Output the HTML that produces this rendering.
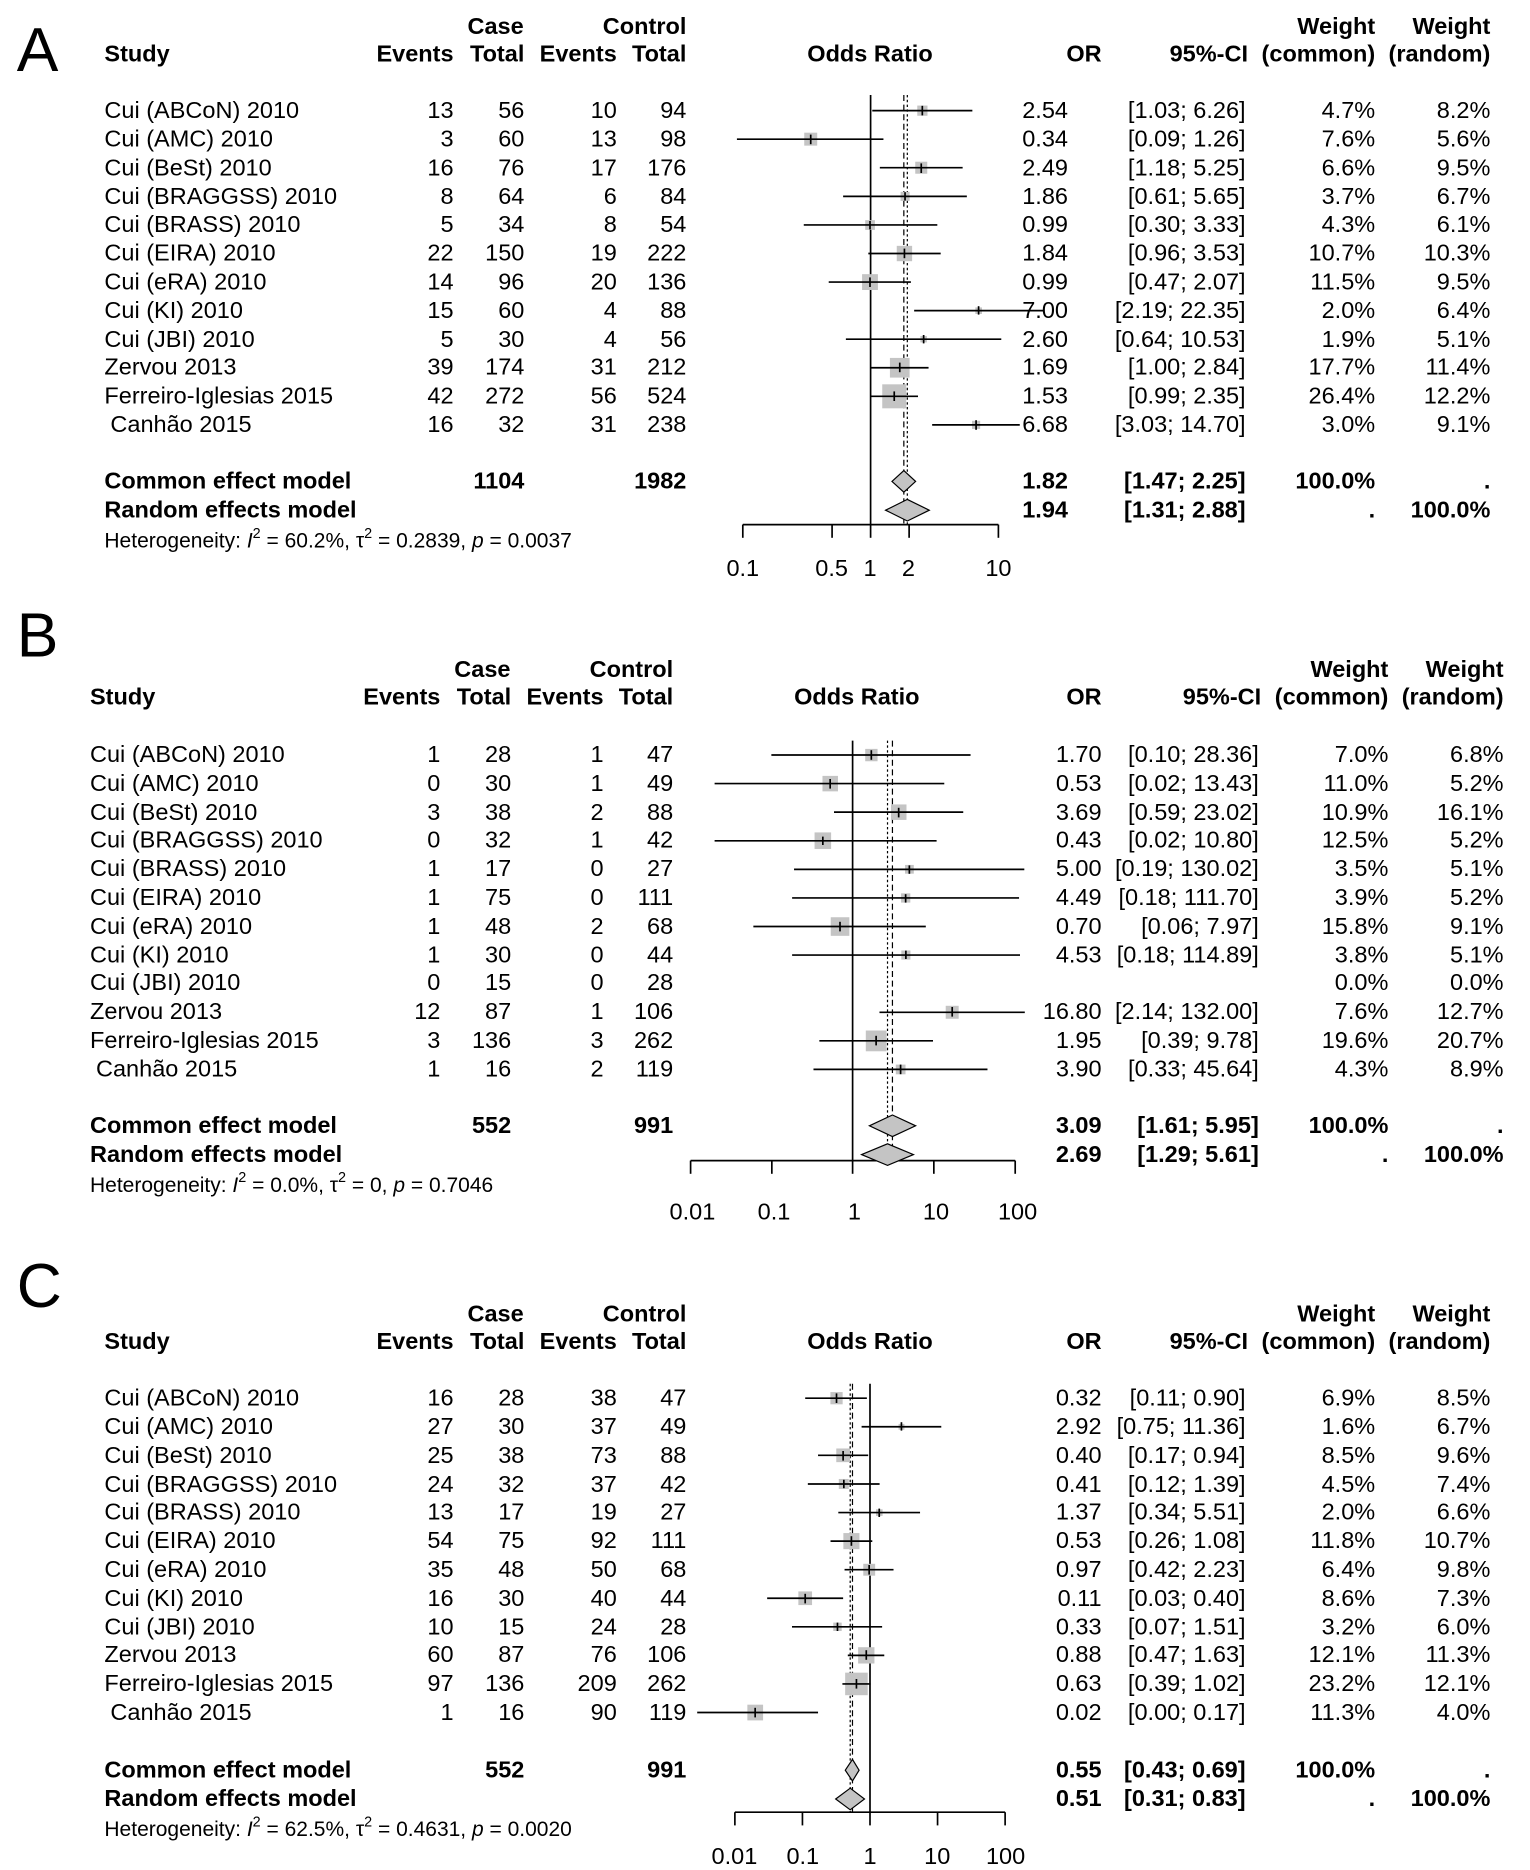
<!DOCTYPE html>
<html><head><meta charset="utf-8"><style>
html,body{margin:0;padding:0;background:#fff}
svg{display:block}
text{font-family:"Liberation Sans",Arial,sans-serif;font-size:19.6px;fill:#000}
.b{font-weight:bold}
.r{text-anchor:end}
.m{text-anchor:middle}
.h{font-size:17.5px}
.L{font-size:52px}
.sq{fill:#c4c4c4}
.ln{stroke:#000;stroke-width:1.4;fill:none}
.dm{fill:#c4c4c4;stroke:#000;stroke-width:1}
</style></head><body>
<svg width="1530" height="1870" viewBox="0 0 1275 1558" xmlns="http://www.w3.org/2000/svg">

<!-- ================= PANEL A ================= -->
<text class="L" x="14" y="59">A</text>
<g class="b">
<text class="m" x="413" y="28">Case</text>
<text class="r" x="572" y="28">Control</text>
<text class="r" x="1146" y="28">Weight</text>
<text class="r" x="1242" y="28">Weight</text>
<text x="87" y="51">Study</text>
<text class="r" x="378" y="51">Events</text>
<text class="r" x="437" y="51">Total</text>
<text class="r" x="514" y="51">Events</text>
<text class="r" x="572" y="51">Total</text>
<text class="m" x="725" y="51">Odds Ratio</text>
<text class="r" x="918" y="51">OR</text>
<text class="r" x="1040" y="51">95%-CI</text>
<text class="r" x="1146" y="51">(common)</text>
<text class="r" x="1242" y="51">(random)</text>
</g>
<g>
<text x="87" y="98">Cui (ABCoN) 2010</text><text class="r" x="378" y="98">13</text><text class="r" x="437" y="98">56</text><text class="r" x="514" y="98">10</text><text class="r" x="572" y="98">94</text><text class="r" x="890" y="98">2.54</text><text class="r" x="1038" y="98">[1.03; 6.26]</text><text class="r" x="1146" y="98">4.7%</text><text class="r" x="1242" y="98">8.2%</text>
<text x="87" y="122">Cui (AMC) 2010</text><text class="r" x="378" y="122">3</text><text class="r" x="437" y="122">60</text><text class="r" x="514" y="122">13</text><text class="r" x="572" y="122">98</text><text class="r" x="890" y="122">0.34</text><text class="r" x="1038" y="122">[0.09; 1.26]</text><text class="r" x="1146" y="122">7.6%</text><text class="r" x="1242" y="122">5.6%</text>
<text x="87" y="146">Cui (BeSt) 2010</text><text class="r" x="378" y="146">16</text><text class="r" x="437" y="146">76</text><text class="r" x="514" y="146">17</text><text class="r" x="572" y="146">176</text><text class="r" x="890" y="146">2.49</text><text class="r" x="1038" y="146">[1.18; 5.25]</text><text class="r" x="1146" y="146">6.6%</text><text class="r" x="1242" y="146">9.5%</text>
<text x="87" y="170">Cui (BRAGGSS) 2010</text><text class="r" x="378" y="170">8</text><text class="r" x="437" y="170">64</text><text class="r" x="514" y="170">6</text><text class="r" x="572" y="170">84</text><text class="r" x="890" y="170">1.86</text><text class="r" x="1038" y="170">[0.61; 5.65]</text><text class="r" x="1146" y="170">3.7%</text><text class="r" x="1242" y="170">6.7%</text>
<text x="87" y="193">Cui (BRASS) 2010</text><text class="r" x="378" y="193">5</text><text class="r" x="437" y="193">34</text><text class="r" x="514" y="193">8</text><text class="r" x="572" y="193">54</text><text class="r" x="890" y="193">0.99</text><text class="r" x="1038" y="193">[0.30; 3.33]</text><text class="r" x="1146" y="193">4.3%</text><text class="r" x="1242" y="193">6.1%</text>
<text x="87" y="217">Cui (EIRA) 2010</text><text class="r" x="378" y="217">22</text><text class="r" x="437" y="217">150</text><text class="r" x="514" y="217">19</text><text class="r" x="572" y="217">222</text><text class="r" x="890" y="217">1.84</text><text class="r" x="1038" y="217">[0.96; 3.53]</text><text class="r" x="1146" y="217">10.7%</text><text class="r" x="1242" y="217">10.3%</text>
<text x="87" y="241">Cui (eRA) 2010</text><text class="r" x="378" y="241">14</text><text class="r" x="437" y="241">96</text><text class="r" x="514" y="241">20</text><text class="r" x="572" y="241">136</text><text class="r" x="890" y="241">0.99</text><text class="r" x="1038" y="241">[0.47; 2.07]</text><text class="r" x="1146" y="241">11.5%</text><text class="r" x="1242" y="241">9.5%</text>
<text x="87" y="265">Cui (KI) 2010</text><text class="r" x="378" y="265">15</text><text class="r" x="437" y="265">60</text><text class="r" x="514" y="265">4</text><text class="r" x="572" y="265">88</text><text class="r" x="890" y="265">7.00</text><text class="r" x="1038" y="265">[2.19; 22.35]</text><text class="r" x="1146" y="265">2.0%</text><text class="r" x="1242" y="265">6.4%</text>
<text x="87" y="289">Cui (JBI) 2010</text><text class="r" x="378" y="289">5</text><text class="r" x="437" y="289">30</text><text class="r" x="514" y="289">4</text><text class="r" x="572" y="289">56</text><text class="r" x="890" y="289">2.60</text><text class="r" x="1038" y="289">[0.64; 10.53]</text><text class="r" x="1146" y="289">1.9%</text><text class="r" x="1242" y="289">5.1%</text>
<text x="87" y="312">Zervou 2013</text><text class="r" x="378" y="312">39</text><text class="r" x="437" y="312">174</text><text class="r" x="514" y="312">31</text><text class="r" x="572" y="312">212</text><text class="r" x="890" y="312">1.69</text><text class="r" x="1038" y="312">[1.00; 2.84]</text><text class="r" x="1146" y="312">17.7%</text><text class="r" x="1242" y="312">11.4%</text>
<text x="87" y="336">Ferreiro-Iglesias 2015</text><text class="r" x="378" y="336">42</text><text class="r" x="437" y="336">272</text><text class="r" x="514" y="336">56</text><text class="r" x="572" y="336">524</text><text class="r" x="890" y="336">1.53</text><text class="r" x="1038" y="336">[0.99; 2.35]</text><text class="r" x="1146" y="336">26.4%</text><text class="r" x="1242" y="336">12.2%</text>
<text x="92" y="360">Canhão 2015</text><text class="r" x="378" y="360">16</text><text class="r" x="437" y="360">32</text><text class="r" x="514" y="360">31</text><text class="r" x="572" y="360">238</text><text class="r" x="890" y="360">6.68</text><text class="r" x="1038" y="360">[3.03; 14.70]</text><text class="r" x="1146" y="360">3.0%</text><text class="r" x="1242" y="360">9.1%</text>
</g>
<g class="b">
<text x="87" y="407">Common effect model</text><text class="r" x="437" y="407">1104</text><text class="r" x="572" y="407">1982</text><text class="r" x="890" y="407">1.82</text><text class="r" x="1038" y="407">[1.47; 2.25]</text><text class="r" x="1146" y="407">100.0%</text><text class="r" x="1242" y="407">.</text>
<text x="87" y="431">Random effects model</text><text class="r" x="890" y="431">1.94</text><text class="r" x="1038" y="431">[1.31; 2.88]</text><text class="r" x="1146" y="431">.</text><text class="r" x="1242" y="431">100.0%</text>
</g>
<text class="h" x="87" y="456">Heterogeneity: <tspan font-style="italic">I</tspan><tspan dy="-8" font-size="12">2</tspan><tspan dy="8"> = 60.2%, τ</tspan><tspan dy="-8" font-size="12">2</tspan><tspan dy="8"> = 0.2839, </tspan><tspan font-style="italic">p</tspan> = 0.0037</text>
<g class="ln">
<line x1="725.5" y1="79" x2="725.5" y2="437"/>
<line x1="753.2" y1="79" x2="753.2" y2="437" stroke-dasharray="5,3" stroke-width="1"/>
<line x1="756.1" y1="79" x2="756.1" y2="437" stroke-dasharray="2,2" stroke-width="1"/>
<line x1="619" y1="437" x2="832" y2="437"/>
<line x1="619" y1="437" x2="619" y2="448"/><line x1="693.4" y1="437" x2="693.4" y2="448"/><line x1="725.5" y1="437" x2="725.5" y2="448"/><line x1="757.6" y1="437" x2="757.6" y2="448"/><line x1="832" y1="437" x2="832" y2="448"/>
</g>
<g class="m"><text x="619" y="480">0.1</text><text x="693" y="480">0.5</text><text x="725" y="480">1</text><text x="757" y="480">2</text><text x="832" y="480">10</text></g>
<g>
<rect class="sq" x="764.4" y="87.8" width="8.5" height="8.5"/><line class="ln" x1="726.9" y1="92" x2="810.3" y2="92"/><line class="ln" x1="768.6" y1="88" x2="768.6" y2="96"/>
<rect class="sq" x="670.2" y="110.4" width="10.8" height="10.8"/><line class="ln" x1="614.1" y1="115.8" x2="736.2" y2="115.8"/><line class="ln" x1="675.6" y1="112" x2="675.6" y2="120"/>
<rect class="sq" x="762.7" y="134.6" width="10" height="10"/><line class="ln" x1="733.2" y1="139.6" x2="802.2" y2="139.6"/><line class="ln" x1="767.7" y1="136" x2="767.7" y2="144"/>
<rect class="sq" x="750.5" y="159.7" width="7.5" height="7.5"/><line class="ln" x1="702.6" y1="163.5" x2="805.7" y2="163.5"/><line class="ln" x1="754.2" y1="160" x2="754.2" y2="167"/>
<rect class="sq" x="721" y="183.3" width="8.1" height="8.1"/><line class="ln" x1="669.8" y1="187.3" x2="781.1" y2="187.3"/><line class="ln" x1="725" y1="184" x2="725" y2="191"/>
<rect class="sq" x="747.3" y="204.7" width="12.8" height="12.8"/><line class="ln" x1="723.6" y1="211.1" x2="783.9" y2="211.1"/><line class="ln" x1="753.7" y1="207" x2="753.7" y2="215"/>
<rect class="sq" x="718.4" y="228.3" width="13.2" height="13.2"/><line class="ln" x1="690.6" y1="234.9" x2="759.1" y2="234.9"/><line class="ln" x1="725" y1="231" x2="725" y2="239"/>
<rect class="sq" x="812.8" y="256" width="5.5" height="5.5"/><line class="ln" x1="761.8" y1="258.7" x2="869.2" y2="258.7"/><line class="ln" x1="815.5" y1="255" x2="815.5" y2="262"/>
<rect class="sq" x="767" y="279.8" width="5.4" height="5.4"/><line class="ln" x1="704.9" y1="282.5" x2="834.4" y2="282.5"/><line class="ln" x1="769.7" y1="279" x2="769.7" y2="286"/>
<rect class="sq" x="741.6" y="298.1" width="16.4" height="16.4"/><line class="ln" x1="725.5" y1="306.3" x2="773.8" y2="306.3"/><line class="ln" x1="749.8" y1="302" x2="749.8" y2="310"/>
<rect class="sq" x="735.2" y="320.1" width="20" height="20"/><line class="ln" x1="725" y1="330.1" x2="765" y2="330.1"/><line class="ln" x1="745.2" y1="326" x2="745.2" y2="334"/>
<rect class="sq" x="810" y="350.5" width="6.8" height="6.8"/><line class="ln" x1="776.8" y1="353.9" x2="849.8" y2="353.9"/><line class="ln" x1="813.4" y1="350" x2="813.4" y2="358"/>
<polygon class="dm" points="743.3,401 753.2,392 763,401 753.2,410"/>
<polygon class="dm" points="738,425 756.1,416 774.4,425 756.1,434"/>
</g>

<!-- ================= PANEL B ================= -->
<text class="L" x="14" y="547">B</text>
<g class="b">
<text class="m" x="402" y="564">Case</text>
<text class="r" x="561" y="564">Control</text>
<text class="r" x="1157" y="564">Weight</text>
<text class="r" x="1253" y="564">Weight</text>
<text x="75" y="587">Study</text>
<text class="r" x="367" y="587">Events</text>
<text class="r" x="426" y="587">Total</text>
<text class="r" x="503" y="587">Events</text>
<text class="r" x="561" y="587">Total</text>
<text class="m" x="714" y="587">Odds Ratio</text>
<text class="r" x="918" y="587">OR</text>
<text class="r" x="1051" y="587">95%-CI</text>
<text class="r" x="1157" y="587">(common)</text>
<text class="r" x="1253" y="587">(random)</text>
</g>
<g>
<text x="75" y="635">Cui (ABCoN) 2010</text><text class="r" x="367" y="635">1</text><text class="r" x="426" y="635">28</text><text class="r" x="503" y="635">1</text><text class="r" x="561" y="635">47</text><text class="r" x="918" y="635">1.70</text><text class="r" x="1049" y="635">[0.10; 28.36]</text><text class="r" x="1157" y="635">7.0%</text><text class="r" x="1253" y="635">6.8%</text>
<text x="75" y="659">Cui (AMC) 2010</text><text class="r" x="367" y="659">0</text><text class="r" x="426" y="659">30</text><text class="r" x="503" y="659">1</text><text class="r" x="561" y="659">49</text><text class="r" x="918" y="659">0.53</text><text class="r" x="1049" y="659">[0.02; 13.43]</text><text class="r" x="1157" y="659">11.0%</text><text class="r" x="1253" y="659">5.2%</text>
<text x="75" y="683">Cui (BeSt) 2010</text><text class="r" x="367" y="683">3</text><text class="r" x="426" y="683">38</text><text class="r" x="503" y="683">2</text><text class="r" x="561" y="683">88</text><text class="r" x="918" y="683">3.69</text><text class="r" x="1049" y="683">[0.59; 23.02]</text><text class="r" x="1157" y="683">10.9%</text><text class="r" x="1253" y="683">16.1%</text>
<text x="75" y="706">Cui (BRAGGSS) 2010</text><text class="r" x="367" y="706">0</text><text class="r" x="426" y="706">32</text><text class="r" x="503" y="706">1</text><text class="r" x="561" y="706">42</text><text class="r" x="918" y="706">0.43</text><text class="r" x="1049" y="706">[0.02; 10.80]</text><text class="r" x="1157" y="706">12.5%</text><text class="r" x="1253" y="706">5.2%</text>
<text x="75" y="730">Cui (BRASS) 2010</text><text class="r" x="367" y="730">1</text><text class="r" x="426" y="730">17</text><text class="r" x="503" y="730">0</text><text class="r" x="561" y="730">27</text><text class="r" x="918" y="730">5.00</text><text class="r" x="1049" y="730">[0.19; 130.02]</text><text class="r" x="1157" y="730">3.5%</text><text class="r" x="1253" y="730">5.1%</text>
<text x="75" y="754">Cui (EIRA) 2010</text><text class="r" x="367" y="754">1</text><text class="r" x="426" y="754">75</text><text class="r" x="503" y="754">0</text><text class="r" x="561" y="754">111</text><text class="r" x="918" y="754">4.49</text><text class="r" x="1049" y="754">[0.18; 111.70]</text><text class="r" x="1157" y="754">3.9%</text><text class="r" x="1253" y="754">5.2%</text>
<text x="75" y="778">Cui (eRA) 2010</text><text class="r" x="367" y="778">1</text><text class="r" x="426" y="778">48</text><text class="r" x="503" y="778">2</text><text class="r" x="561" y="778">68</text><text class="r" x="918" y="778">0.70</text><text class="r" x="1049" y="778">[0.06; 7.97]</text><text class="r" x="1157" y="778">15.8%</text><text class="r" x="1253" y="778">9.1%</text>
<text x="75" y="802">Cui (KI) 2010</text><text class="r" x="367" y="802">1</text><text class="r" x="426" y="802">30</text><text class="r" x="503" y="802">0</text><text class="r" x="561" y="802">44</text><text class="r" x="918" y="802">4.53</text><text class="r" x="1049" y="802">[0.18; 114.89]</text><text class="r" x="1157" y="802">3.8%</text><text class="r" x="1253" y="802">5.1%</text>
<text x="75" y="825">Cui (JBI) 2010</text><text class="r" x="367" y="825">0</text><text class="r" x="426" y="825">15</text><text class="r" x="503" y="825">0</text><text class="r" x="561" y="825">28</text><text class="r" x="1157" y="825">0.0%</text><text class="r" x="1253" y="825">0.0%</text>
<text x="75" y="849">Zervou 2013</text><text class="r" x="367" y="849">12</text><text class="r" x="426" y="849">87</text><text class="r" x="503" y="849">1</text><text class="r" x="561" y="849">106</text><text class="r" x="918" y="849">16.80</text><text class="r" x="1049" y="849">[2.14; 132.00]</text><text class="r" x="1157" y="849">7.6%</text><text class="r" x="1253" y="849">12.7%</text>
<text x="75" y="873">Ferreiro-Iglesias 2015</text><text class="r" x="367" y="873">3</text><text class="r" x="426" y="873">136</text><text class="r" x="503" y="873">3</text><text class="r" x="561" y="873">262</text><text class="r" x="918" y="873">1.95</text><text class="r" x="1049" y="873">[0.39; 9.78]</text><text class="r" x="1157" y="873">19.6%</text><text class="r" x="1253" y="873">20.7%</text>
<text x="80" y="897">Canhão 2015</text><text class="r" x="367" y="897">1</text><text class="r" x="426" y="897">16</text><text class="r" x="503" y="897">2</text><text class="r" x="561" y="897">119</text><text class="r" x="918" y="897">3.90</text><text class="r" x="1049" y="897">[0.33; 45.64]</text><text class="r" x="1157" y="897">4.3%</text><text class="r" x="1253" y="897">8.9%</text>
</g>
<g class="b">
<text x="75" y="944">Common effect model</text><text class="r" x="426" y="944">552</text><text class="r" x="561" y="944">991</text><text class="r" x="918" y="944">3.09</text><text class="r" x="1049" y="944">[1.61; 5.95]</text><text class="r" x="1157" y="944">100.0%</text><text class="r" x="1253" y="944">.</text>
<text x="75" y="968">Random effects model</text><text class="r" x="918" y="968">2.69</text><text class="r" x="1049" y="968">[1.29; 5.61]</text><text class="r" x="1157" y="968">.</text><text class="r" x="1253" y="968">100.0%</text>
</g>
<text class="h" x="75" y="993">Heterogeneity: <tspan font-style="italic">I</tspan><tspan dy="-8" font-size="12">2</tspan><tspan dy="8"> = 0.0%, τ</tspan><tspan dy="-8" font-size="12">2</tspan><tspan dy="8"> = 0, </tspan><tspan font-style="italic">p</tspan> = 0.7046</text>
<g class="ln">
<line x1="710.5" y1="617" x2="710.5" y2="967"/>
<line x1="743.7" y1="617" x2="743.7" y2="967" stroke-dasharray="5,3" stroke-width="1"/>
<line x1="739.6" y1="617" x2="739.6" y2="967" stroke-dasharray="2,2" stroke-width="1"/>
<line x1="575.5" y1="967" x2="846" y2="967"/>
<line x1="575.5" y1="967" x2="575.5" y2="978"/><line x1="643.2" y1="967" x2="643.2" y2="978"/><line x1="710.5" y1="967" x2="710.5" y2="978"/><line x1="778.2" y1="967" x2="778.2" y2="978"/><line x1="846" y1="967" x2="846" y2="978"/>
</g>
<g class="m"><text x="577" y="1016">0.01</text><text x="645" y="1016">0.1</text><text x="712" y="1016">1</text><text x="780" y="1016">10</text><text x="848" y="1016">100</text></g>
<g>
<rect class="sq" x="721" y="623.9" width="10.3" height="10.3"/><line class="ln" x1="642.8" y1="629" x2="808.8" y2="629"/><line class="ln" x1="726.1" y1="625" x2="726.1" y2="633"/>
<rect class="sq" x="685.4" y="646.4" width="12.9" height="12.9"/><line class="ln" x1="595.5" y1="652.8" x2="786.9" y2="652.8"/><line class="ln" x1="691.8" y1="649" x2="691.8" y2="657"/>
<rect class="sq" x="742.5" y="670.2" width="12.9" height="12.9"/><line class="ln" x1="695" y1="676.6" x2="802.7" y2="676.6"/><line class="ln" x1="748.9" y1="673" x2="748.9" y2="681"/>
<rect class="sq" x="678.8" y="693.5" width="13.8" height="13.8"/><line class="ln" x1="595.5" y1="700.5" x2="780.5" y2="700.5"/><line class="ln" x1="685.7" y1="697" x2="685.7" y2="704"/>
<rect class="sq" x="754.2" y="720.6" width="7.3" height="7.3"/><line class="ln" x1="661.7" y1="724.3" x2="853.6" y2="724.3"/><line class="ln" x1="757.8" y1="721" x2="757.8" y2="728"/>
<rect class="sq" x="750.9" y="744.3" width="7.7" height="7.7"/><line class="ln" x1="660.1" y1="748.1" x2="849.2" y2="748.1"/><line class="ln" x1="754.7" y1="745" x2="754.7" y2="752"/>
<rect class="sq" x="692.3" y="764.2" width="15.5" height="15.5"/><line class="ln" x1="627.8" y1="771.9" x2="771.5" y2="771.9"/><line class="ln" x1="700" y1="768" x2="700" y2="776"/>
<rect class="sq" x="751.1" y="791.9" width="7.6" height="7.6"/><line class="ln" x1="660.1" y1="795.7" x2="850" y2="795.7"/><line class="ln" x1="754.9" y1="792" x2="754.9" y2="799"/>
<rect class="sq" x="788.1" y="838" width="10.8" height="10.8"/><line class="ln" x1="732.9" y1="843.4" x2="854" y2="843.4"/><line class="ln" x1="793.5" y1="839" x2="793.5" y2="847"/>
<rect class="sq" x="721.5" y="858.6" width="17.3" height="17.3"/><line class="ln" x1="682.8" y1="867.2" x2="777.5" y2="867.2"/><line class="ln" x1="730.1" y1="863" x2="730.1" y2="871"/>
<rect class="sq" x="746.5" y="887" width="8.1" height="8.1"/><line class="ln" x1="677.9" y1="891" x2="822.9" y2="891"/><line class="ln" x1="750.5" y1="887" x2="750.5" y2="895"/>
<polygon class="dm" points="724.5,938 743.7,929 763,938 743.7,947"/>
<polygon class="dm" points="718,962 739.6,953 761.2,962 739.6,971"/>
</g>

<!-- ================= PANEL C ================= -->
<text class="L" x="14" y="1089">C</text>
<g class="b">
<text class="m" x="413" y="1101">Case</text>
<text class="r" x="572" y="1101">Control</text>
<text class="r" x="1146" y="1101">Weight</text>
<text class="r" x="1242" y="1101">Weight</text>
<text x="87" y="1124">Study</text>
<text class="r" x="378" y="1124">Events</text>
<text class="r" x="437" y="1124">Total</text>
<text class="r" x="514" y="1124">Events</text>
<text class="r" x="572" y="1124">Total</text>
<text class="m" x="725" y="1124">Odds Ratio</text>
<text class="r" x="918" y="1124">OR</text>
<text class="r" x="1040" y="1124">95%-CI</text>
<text class="r" x="1146" y="1124">(common)</text>
<text class="r" x="1242" y="1124">(random)</text>
</g>
<g>
<text x="87" y="1171">Cui (ABCoN) 2010</text><text class="r" x="378" y="1171">16</text><text class="r" x="437" y="1171">28</text><text class="r" x="514" y="1171">38</text><text class="r" x="572" y="1171">47</text><text class="r" x="918" y="1171">0.32</text><text class="r" x="1038" y="1171">[0.11; 0.90]</text><text class="r" x="1146" y="1171">6.9%</text><text class="r" x="1242" y="1171">8.5%</text>
<text x="87" y="1195">Cui (AMC) 2010</text><text class="r" x="378" y="1195">27</text><text class="r" x="437" y="1195">30</text><text class="r" x="514" y="1195">37</text><text class="r" x="572" y="1195">49</text><text class="r" x="918" y="1195">2.92</text><text class="r" x="1038" y="1195">[0.75; 11.36]</text><text class="r" x="1146" y="1195">1.6%</text><text class="r" x="1242" y="1195">6.7%</text>
<text x="87" y="1219">Cui (BeSt) 2010</text><text class="r" x="378" y="1219">25</text><text class="r" x="437" y="1219">38</text><text class="r" x="514" y="1219">73</text><text class="r" x="572" y="1219">88</text><text class="r" x="918" y="1219">0.40</text><text class="r" x="1038" y="1219">[0.17; 0.94]</text><text class="r" x="1146" y="1219">8.5%</text><text class="r" x="1242" y="1219">9.6%</text>
<text x="87" y="1243">Cui (BRAGGSS) 2010</text><text class="r" x="378" y="1243">24</text><text class="r" x="437" y="1243">32</text><text class="r" x="514" y="1243">37</text><text class="r" x="572" y="1243">42</text><text class="r" x="918" y="1243">0.41</text><text class="r" x="1038" y="1243">[0.12; 1.39]</text><text class="r" x="1146" y="1243">4.5%</text><text class="r" x="1242" y="1243">7.4%</text>
<text x="87" y="1266">Cui (BRASS) 2010</text><text class="r" x="378" y="1266">13</text><text class="r" x="437" y="1266">17</text><text class="r" x="514" y="1266">19</text><text class="r" x="572" y="1266">27</text><text class="r" x="918" y="1266">1.37</text><text class="r" x="1038" y="1266">[0.34; 5.51]</text><text class="r" x="1146" y="1266">2.0%</text><text class="r" x="1242" y="1266">6.6%</text>
<text x="87" y="1290">Cui (EIRA) 2010</text><text class="r" x="378" y="1290">54</text><text class="r" x="437" y="1290">75</text><text class="r" x="514" y="1290">92</text><text class="r" x="572" y="1290">111</text><text class="r" x="918" y="1290">0.53</text><text class="r" x="1038" y="1290">[0.26; 1.08]</text><text class="r" x="1146" y="1290">11.8%</text><text class="r" x="1242" y="1290">10.7%</text>
<text x="87" y="1314">Cui (eRA) 2010</text><text class="r" x="378" y="1314">35</text><text class="r" x="437" y="1314">48</text><text class="r" x="514" y="1314">50</text><text class="r" x="572" y="1314">68</text><text class="r" x="918" y="1314">0.97</text><text class="r" x="1038" y="1314">[0.42; 2.23]</text><text class="r" x="1146" y="1314">6.4%</text><text class="r" x="1242" y="1314">9.8%</text>
<text x="87" y="1338">Cui (KI) 2010</text><text class="r" x="378" y="1338">16</text><text class="r" x="437" y="1338">30</text><text class="r" x="514" y="1338">40</text><text class="r" x="572" y="1338">44</text><text class="r" x="918" y="1338">0.11</text><text class="r" x="1038" y="1338">[0.03; 0.40]</text><text class="r" x="1146" y="1338">8.6%</text><text class="r" x="1242" y="1338">7.3%</text>
<text x="87" y="1362">Cui (JBI) 2010</text><text class="r" x="378" y="1362">10</text><text class="r" x="437" y="1362">15</text><text class="r" x="514" y="1362">24</text><text class="r" x="572" y="1362">28</text><text class="r" x="918" y="1362">0.33</text><text class="r" x="1038" y="1362">[0.07; 1.51]</text><text class="r" x="1146" y="1362">3.2%</text><text class="r" x="1242" y="1362">6.0%</text>
<text x="87" y="1385">Zervou 2013</text><text class="r" x="378" y="1385">60</text><text class="r" x="437" y="1385">87</text><text class="r" x="514" y="1385">76</text><text class="r" x="572" y="1385">106</text><text class="r" x="918" y="1385">0.88</text><text class="r" x="1038" y="1385">[0.47; 1.63]</text><text class="r" x="1146" y="1385">12.1%</text><text class="r" x="1242" y="1385">11.3%</text>
<text x="87" y="1409">Ferreiro-Iglesias 2015</text><text class="r" x="378" y="1409">97</text><text class="r" x="437" y="1409">136</text><text class="r" x="514" y="1409">209</text><text class="r" x="572" y="1409">262</text><text class="r" x="918" y="1409">0.63</text><text class="r" x="1038" y="1409">[0.39; 1.02]</text><text class="r" x="1146" y="1409">23.2%</text><text class="r" x="1242" y="1409">12.1%</text>
<text x="92" y="1433">Canhão 2015</text><text class="r" x="378" y="1433">1</text><text class="r" x="437" y="1433">16</text><text class="r" x="514" y="1433">90</text><text class="r" x="572" y="1433">119</text><text class="r" x="918" y="1433">0.02</text><text class="r" x="1038" y="1433">[0.00; 0.17]</text><text class="r" x="1146" y="1433">11.3%</text><text class="r" x="1242" y="1433">4.0%</text>
</g>
<g class="b">
<text x="87" y="1481">Common effect model</text><text class="r" x="437" y="1481">552</text><text class="r" x="572" y="1481">991</text><text class="r" x="918" y="1481">0.55</text><text class="r" x="1038" y="1481">[0.43; 0.69]</text><text class="r" x="1146" y="1481">100.0%</text><text class="r" x="1242" y="1481">.</text>
<text x="87" y="1505">Random effects model</text><text class="r" x="918" y="1505">0.51</text><text class="r" x="1038" y="1505">[0.31; 0.83]</text><text class="r" x="1146" y="1505">.</text><text class="r" x="1242" y="1505">100.0%</text>
</g>
<text class="h" x="87" y="1530">Heterogeneity: <tspan font-style="italic">I</tspan><tspan dy="-8" font-size="12">2</tspan><tspan dy="8"> = 62.5%, τ</tspan><tspan dy="-8" font-size="12">2</tspan><tspan dy="8"> = 0.4631, </tspan><tspan font-style="italic">p</tspan> = 0.0020</text>
<g class="ln">
<line x1="725" y1="1153" x2="725" y2="1510"/>
<line x1="710.4" y1="1153" x2="710.4" y2="1510" stroke-dasharray="5,3" stroke-width="1"/>
<line x1="708.5" y1="1153" x2="708.5" y2="1510" stroke-dasharray="2,2" stroke-width="1"/>
<line x1="612.4" y1="1510" x2="837.6" y2="1510"/>
<line x1="612.4" y1="1510" x2="612.4" y2="1521"/><line x1="668.7" y1="1510" x2="668.7" y2="1521"/><line x1="725" y1="1510" x2="725" y2="1521"/><line x1="781.3" y1="1510" x2="781.3" y2="1521"/><line x1="837.6" y1="1510" x2="837.6" y2="1521"/>
</g>
<g class="m"><text x="612" y="1553">0.01</text><text x="669" y="1553">0.1</text><text x="725" y="1553">1</text><text x="781" y="1553">10</text><text x="838" y="1553">100</text></g>
<g>
<rect class="sq" x="692" y="1159.9" width="10.2" height="10.2"/><line class="ln" x1="671" y1="1165" x2="722.4" y2="1165"/><line class="ln" x1="697.1" y1="1161" x2="697.1" y2="1169"/>
<rect class="sq" x="748.8" y="1186.4" width="4.9" height="4.9"/><line class="ln" x1="718" y1="1188.8" x2="784.4" y2="1188.8"/><line class="ln" x1="751.2" y1="1185" x2="751.2" y2="1192"/>
<rect class="sq" x="696.9" y="1206.9" width="11.4" height="11.4"/><line class="ln" x1="681.7" y1="1212.6" x2="723.5" y2="1212.6"/><line class="ln" x1="702.6" y1="1209" x2="702.6" y2="1217"/>
<rect class="sq" x="699" y="1232.3" width="8.3" height="8.3"/><line class="ln" x1="673.2" y1="1236.5" x2="733" y2="1236.5"/><line class="ln" x1="703.2" y1="1233" x2="703.2" y2="1240"/>
<rect class="sq" x="730" y="1257.6" width="5.5" height="5.5"/><line class="ln" x1="698.6" y1="1260.3" x2="766.7" y2="1260.3"/><line class="ln" x1="732.7" y1="1257" x2="732.7" y2="1264"/>
<rect class="sq" x="702.8" y="1277.4" width="13.4" height="13.4"/><line class="ln" x1="692.1" y1="1284.1" x2="726.9" y2="1284.1"/><line class="ln" x1="709.5" y1="1280" x2="709.5" y2="1288"/>
<rect class="sq" x="719.4" y="1303" width="9.9" height="9.9"/><line class="ln" x1="703.8" y1="1307.9" x2="744.6" y2="1307.9"/><line class="ln" x1="724.3" y1="1304" x2="724.3" y2="1312"/>
<rect class="sq" x="665.3" y="1326" width="11.4" height="11.4"/><line class="ln" x1="639.3" y1="1331.7" x2="702.6" y2="1331.7"/><line class="ln" x1="671" y1="1328" x2="671" y2="1336"/>
<rect class="sq" x="694.4" y="1352" width="7" height="7"/><line class="ln" x1="660" y1="1355.5" x2="735.1" y2="1355.5"/><line class="ln" x1="697.9" y1="1352" x2="697.9" y2="1359"/>
<rect class="sq" x="715.1" y="1372.5" width="13.6" height="13.6"/><line class="ln" x1="706.5" y1="1379.3" x2="736.9" y2="1379.3"/><line class="ln" x1="721.9" y1="1375" x2="721.9" y2="1383"/>
<rect class="sq" x="704.3" y="1393.7" width="18.8" height="18.8"/><line class="ln" x1="702" y1="1403.1" x2="725.5" y2="1403.1"/><line class="ln" x1="713.7" y1="1399" x2="713.7" y2="1407"/>
<rect class="sq" x="622.8" y="1420.4" width="13.1" height="13.1"/><line class="ln" x1="581" y1="1426.9" x2="681.7" y2="1426.9"/><line class="ln" x1="629.3" y1="1423" x2="629.3" y2="1431"/>
<polygon class="dm" points="704.4,1475 710.4,1466 715.9,1475 710.4,1484"/>
<polygon class="dm" points="696.4,1499 708.5,1490 720.4,1499 708.5,1508"/>
</g>
</svg>
</body></html>
